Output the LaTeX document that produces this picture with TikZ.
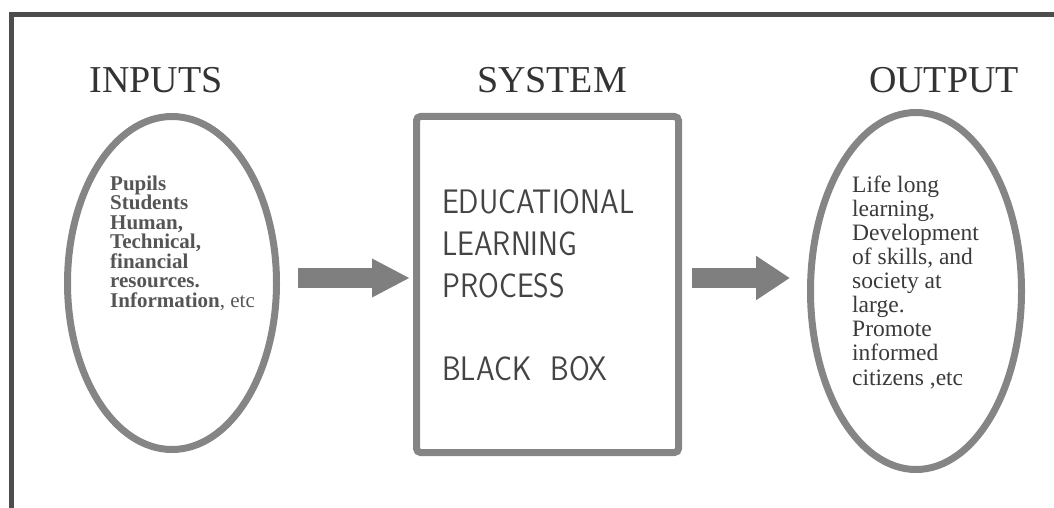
\documentclass[tikz,border=0pt]{standalone}
\usepackage{fontspec}
\setmainfont{Liberation Serif}
\usetikzlibrary{arrows.meta,shapes.geometric}
\definecolor{framegray}{HTML}{4D4D4D}
\definecolor{ringgray}{HTML}{858585}
\definecolor{arrowgray}{HTML}{7F7F7F}
\definecolor{titlegray}{HTML}{333333}
\definecolor{ingray}{HTML}{555555}
\definecolor{outgray}{HTML}{3A3A3A}
\definecolor{boxtext}{HTML}{444444}
\begin{document}
\begin{tikzpicture}[x=1pt,y=-1pt]
\tikzset{
  ell/.style={ellipse, draw=ringgray, line width=7pt, inner sep=0pt},
  sysbox/.style={rectangle, draw=ringgray, line width=7pt, rounded corners=4pt, inner sep=0pt},
  title/.style={font=\fontsize{38}{40}\selectfont, text=titlegray, inner sep=0pt, anchor=base},
  framel/.style={draw=framegray, line width=5pt},
  blockarrow/.style={draw=arrowgray, line width=20pt},
  txt/.style={inner sep=0pt, anchor=base west, align=left}
}
\useasboundingbox (0,0) rectangle (1054,508);
% frame
\draw[framel] (9,14.5) -- (1054,14.5);
\draw[framel] (11,12) -- (11,508);
% titles
\node[title] (tin) at (156,93) {INPUTS};
\node[title] (tsys) at (552,93) {SYSTEM};
\node[title] (tout) at (944,93) {OUTPUT};
% shapes
\node[ell, minimum width=209pt, minimum height=333pt] (in) at (172,283) {};
\node[sysbox, minimum width=262pt, minimum height=336pt] (sys) at (547.5,284.5) {};
\node[ell, minimum width=211pt, minimum height=357pt] (out) at (916,291) {};
% texts (anchored at the baseline of the last line)
\node[txt, text=ingray, font=\fontsize{21}{19.5}\selectfont] (intext) at (110,307)
 {\textbf{Pupils}\\\textbf{Students}\\\textbf{Human,}\\\textbf{Technical,}\\\textbf{financial}\\\textbf{resources.}\\\textbf{Information}, etc};
\node[txt, text=boxtext, font=\fontsize{34}{42}\sffamily] (systext) at (442,380)
 {\scalebox{0.88}[1]{EDUCATIONAL}\\\scalebox{0.88}[1]{LEARNING}\\\scalebox{0.88}[1]{PROCESS}\\[41pt]\scalebox{0.88}[1]{BLACK\ \ BOX}};
\node[txt, text=outgray, font=\fontsize{23.5}{24.1}\selectfont] (outtext) at (852,385)
 {Life long\\learning,\\Development\\of skills, and\\society at\\large.\\Promote\\informed\\citizens ,etc};
% arrows
\coordinate (a1s) at (298,278);
\coordinate (a1e) at (410,278);
\coordinate (a2s) at (692,278);
\coordinate (a2e) at (790,278);
\draw[blockarrow, -{Triangle[length=38pt,width=36pt]}] (a1s) -- (a1e);
\draw[blockarrow, -{Triangle[length=34pt,width=42pt]}] (a2s) -- (a2e);
\end{tikzpicture}
\end{document}
